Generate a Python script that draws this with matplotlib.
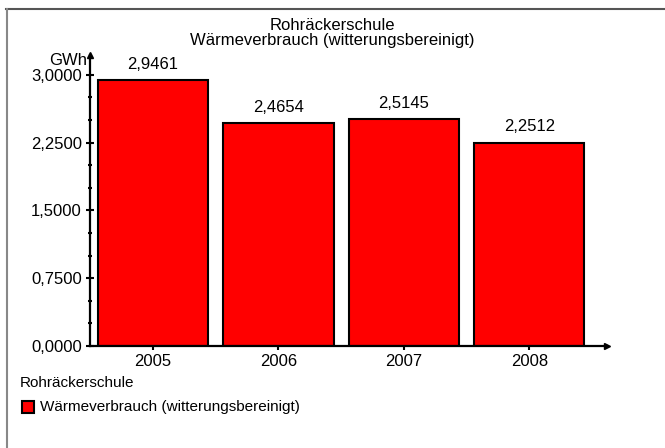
import matplotlib
matplotlib.use("Agg")
import matplotlib.pyplot as plt
from matplotlib.lines import Line2D
from matplotlib.patches import Rectangle

plt.rcParams['font.family'] = ['Liberation Sans', 'DejaVu Sans']

years = ['2005', '2006', '2007', '2008']
values = [2.9461, 2.4654, 2.5145, 2.2512]
yticks = [0.0, 0.75, 1.5, 2.25, 3.0]
minor_ticks = [0.25, 0.5, 1.0, 1.25, 1.75, 2.0, 2.5, 2.75]
title = "Rohräckerschule"
subtitle = "Wärmeverbrauch (witterungsbereinigt)"
unit = "GWh"


def fmt(v):
    return f"{v:.4f}".replace('.', ',')


fig = plt.figure(figsize=(6.65, 4.48), dpi=100)
W, H = 665, 448

# frame lines (top and left only)
fig.add_artist(Line2D([6 / W, 1], [1 - 9 / H, 1 - 9 / H], color='#555555', lw=1.5))
fig.add_artist(Line2D([6.5 / W, 6.5 / W], [0, 1 - 9 / H], color='#888888', lw=1.5))

ax = fig.add_axes([90 / W, 102 / H, (607 - 90) / W, (346 - 55) / H])
x = list(range(len(years)))
ax.bar(x, values, width=0.88, color='#ff0000', edgecolor='black', linewidth=1.5, zorder=2)
ax.set_xlim(-0.503, 3.62)
ax.set_ylim(0, 3.22)

for s in ['top', 'right']:
    ax.spines[s].set_visible(False)
for s in ['left', 'bottom']:
    ax.spines[s].set_linewidth(1.6)

ax.plot(1, 0, '>', color='black', ms=5, transform=ax.transAxes, clip_on=False)
ax.plot(0, 1, '^', color='black', ms=5, transform=ax.transAxes, clip_on=False)

ax.set_yticks(yticks)
ax.set_yticklabels([fmt(v) for v in yticks], fontsize=12)
ax.set_yticks(minor_ticks, minor=True)
ax.tick_params(axis='y', which='major', direction='inout', length=6, width=1.5, pad=3)
ax.tick_params(axis='y', which='minor', direction='inout', length=3, width=1.5)
ax.set_xticks(x)
ax.set_xticklabels(years, fontsize=12)
ax.tick_params(axis='x', direction='out', length=3, width=1.5, pad=3)

for xi, v in zip(x, values):
    ax.text(xi, v + 0.09, fmt(v), ha='center', va='bottom', fontsize=12)

ax.text(-0.006, 3.16, unit, transform=ax.get_yaxis_transform(),
        ha='right', va='center', fontsize=12)

fig.text(0.5, 1 - 25 / H, title, ha='center', va='center', fontsize=12)
fig.text(0.5, 1 - 41 / H, subtitle, ha='center', va='center', fontsize=12)

# legend
fig.text(20 / W, 1 - 383 / H, title, ha='left', va='center', fontsize=11)
fig.add_artist(Rectangle((22 / W, 1 - 413 / H), 12 / W, 12 / H, facecolor='#ff0000',
                         edgecolor='black', lw=1.5, transform=fig.transFigure))
fig.text(40 / W, 1 - 407 / H, subtitle, ha='left', va='center', fontsize=11)

fig.savefig('out.png', dpi=100)
